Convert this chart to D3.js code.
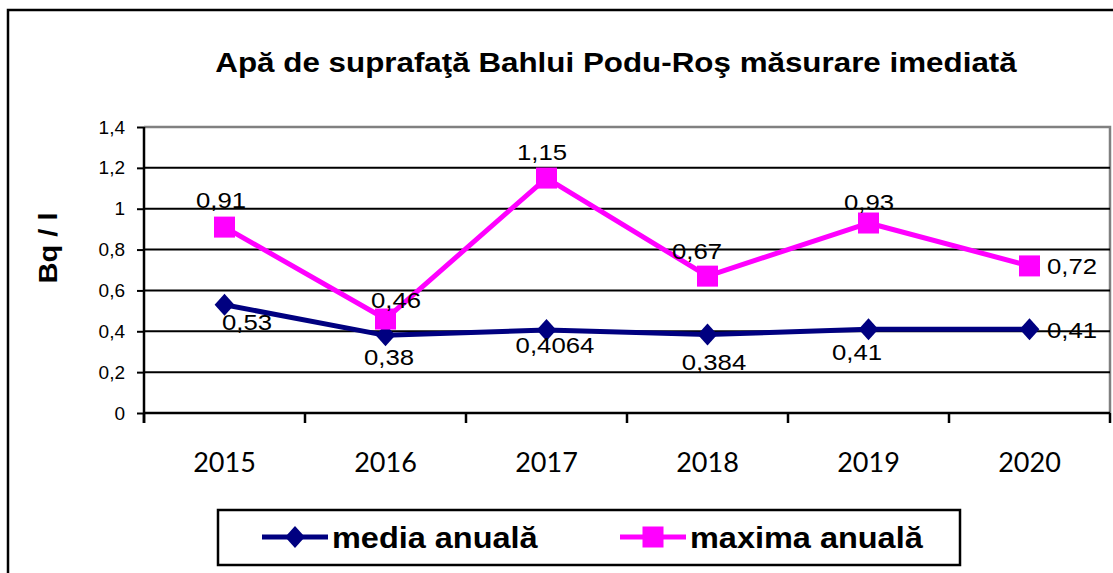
<!DOCTYPE html>
<html>
<head>
<meta charset="utf-8">
<script src="https://cdn.jsdelivr.net/npm/d3@7"></script>
<style>
  html, body { margin: 0; padding: 0; background: #fff; }
  svg { display: block; }
  .arial { font-family: "Liberation Sans", Arial, sans-serif; }
</style>
</head>
<body>
<svg id="chart" width="1113" height="573"></svg>
<script>
// Annual values (Bq/l) for surface water, Bahlui at Podu-Roş
const years = ["2015", "2016", "2017", "2018", "2019", "2020"];
const media = [0.53, 0.38, 0.4064, 0.384, 0.41, 0.41];
const maxima = [0.91, 0.46, 1.15, 0.67, 0.93, 0.72];
const yTicks = [0, 0.2, 0.4, 0.6, 0.8, 1, 1.2, 1.4];
const seriesNames = ["media anuală", "maxima anuală"];
const titleText = "Apă de suprafaţă Bahlui Podu-Roş măsurare imediată";
const yTitle = "Bq / l";

// label placement around each point: [dx, dy, anchor]
const mediaLabelPos = [[-2.5, 25, "start"], [3.5, 30, "middle"], [8.5, 23, "middle"],
                       [6.5, 35, "middle"], [-11.5, 31, "middle"], [17.5, 9, "start"]];
const maximaLabelPos = [[-3.5, -19, "middle"], [10.5, -11, "middle"], [-4.5, -18, "middle"],
                        [-10.5, -17, "middle"], [0.5, -13, "middle"], [17.5, 8, "start"]];

const NAVY = "#000080", MAGENTA = "#ff00ff";
const SX = 1.12; // horizontal text stretch

const ro = d3.formatLocale({ decimal: ",", thousands: ".", grouping: [3], currency: ["", ""] });
const fmt = ro.format("~g");

const svg = d3.select("#chart");
const plot = { left: 144, right: 1110, top: 127, bottom: 413 };

const x = d3.scaleBand().domain(years).range([plot.left, plot.right]).padding(0);
const cx = d => x(d) + x.bandwidth() / 2;
const y = d3.scaleLinear().domain([0, 1.4]).range([plot.bottom, plot.top]);

// outer frame
svg.append("rect").attr("x", 0).attr("y", 0).attr("width", 1113).attr("height", 573).attr("fill", "#fff");
svg.append("rect").attr("x", 8).attr("y", 10).attr("width", 1140).attr("height", 600)
  .attr("fill", "none").attr("stroke", "#000").attr("stroke-width", 2.5);

function stretchedText(g, tx, ty, str, extra) {
  return g.append("text")
    .attr("transform", `translate(${tx},${ty})` + (extra || "") + ` scale(${SX},1)`)
    .text(str);
}

// title
stretchedText(svg, 616, 72, titleText)
  .attr("class", "arial").attr("font-size", 28).attr("font-weight", "bold")
  .attr("text-anchor", "middle").attr("fill", "#000");

// y axis title
stretchedText(svg, 57, 248, yTitle, " rotate(-90)")
  .attr("class", "arial").attr("font-size", 26).attr("font-weight", "bold")
  .attr("text-anchor", "middle").attr("fill", "#000");

// plot frame (top and right)
svg.append("path")
  .attr("d", `M${plot.left},${y(1.4)}H${plot.right}V${plot.bottom}`)
  .attr("fill", "none").attr("stroke", "#808080").attr("stroke-width", 2.5);

// gridlines
svg.append("g").selectAll("line")
  .data(yTicks.filter(t => t > 0 && t < 1.4))
  .join("line")
  .attr("x1", plot.left).attr("x2", plot.right)
  .attr("y1", d => y(d)).attr("y2", d => y(d))
  .attr("stroke", "#000").attr("stroke-width", 2);

// y axis
const yAxis = svg.append("g")
  .attr("transform", `translate(${plot.left},0)`)
  .call(d3.axisLeft(y).tickValues(yTicks).tickFormat(fmt).tickSize(7).tickPadding(12));
yAxis.attr("font-size", null).attr("font-family", null);
yAxis.select(".domain").attr("stroke", "#000").attr("stroke-width", 2.5)
  .attr("d", `M0,${y(1.4)}V${y(0) + 10}`);
yAxis.selectAll(".tick line").attr("stroke", "#000").attr("stroke-width", 2);
yAxis.selectAll(".tick text")
  .attr("fill", "#000")
  .style("font-family", "'Liberation Sans', Arial, sans-serif")
  .style("font-size", "19px");

// x axis line and ticks at category boundaries
svg.append("line")
  .attr("x1", plot.left).attr("x2", plot.right)
  .attr("y1", y(0)).attr("y2", y(0))
  .attr("stroke", "#000").attr("stroke-width", 2.5);
const bounds = years.map(d => x(d)).concat([x.range()[1]]);
svg.append("g").selectAll("line").data(bounds).join("line")
  .attr("x1", d => d).attr("x2", d => d)
  .attr("y1", y(0)).attr("y2", y(0) + 10)
  .attr("stroke", "#000").attr("stroke-width", 2.5);
svg.append("g").selectAll("text").data(years).join("text")
  .attr("x", d => cx(d)).attr("y", 472)
  .attr("text-anchor", "middle")
  .attr("font-family", "Lato, 'Open Sans', sans-serif")
  .attr("font-size", 27).attr("fill", "#000")
  .text(d => d);

// series
const line = d3.line().x((d, i) => cx(years[i])).y(d => y(d));
const diamond = r => `M0,${-r}L${r * 0.9},0L0,${r}L${-r * 0.9},0Z`;

function drawSeries(values, color, marker, labelPos) {
  const g = svg.append("g");
  g.append("path").datum(values).attr("d", line)
    .attr("fill", "none").attr("stroke", color).attr("stroke-width", 5)
    .attr("stroke-linejoin", "round");
  const pts = g.selectAll(".pt").data(values).join("g")
    .attr("transform", (d, i) => `translate(${cx(years[i])},${y(d)})`);
  if (marker === "diamond") {
    pts.append("path").attr("d", diamond(11)).attr("fill", color);
  } else {
    pts.append("rect").attr("x", -10.5).attr("y", -10.5).attr("width", 21).attr("height", 21).attr("fill", color);
  }
  values.forEach((v, i) => {
    const [dx, dy, anchor] = labelPos[i];
    stretchedText(g, cx(years[i]) + dx, y(v) + dy, fmt(v))
      .attr("class", "arial").attr("font-size", 23).attr("fill", "#000")
      .attr("text-anchor", anchor);
  });
}
drawSeries(media, NAVY, "diamond", mediaLabelPos);
drawSeries(maxima, MAGENTA, "square", maximaLabelPos);

// legend
const lg = svg.append("g");
lg.append("rect").attr("x", 218).attr("y", 510).attr("width", 742).attr("height", 55)
  .attr("fill", "#fff").attr("stroke", "#000").attr("stroke-width", 2.5);
const legendItems = [
  { name: seriesNames[0], color: NAVY, marker: "diamond", x0: 262 },
  { name: seriesNames[1], color: MAGENTA, marker: "square", x0: 620 }
];
legendItems.forEach(it => {
  const ly = 537;
  lg.append("line").attr("x1", it.x0).attr("x2", it.x0 + 66).attr("y1", ly).attr("y2", ly)
    .attr("stroke", it.color).attr("stroke-width", 5);
  const m = lg.append("g").attr("transform", `translate(${it.x0 + 33},${ly})`);
  if (it.marker === "diamond") m.append("path").attr("d", diamond(11)).attr("fill", it.color);
  else m.append("rect").attr("x", -10.5).attr("y", -10.5).attr("width", 21).attr("height", 21).attr("fill", it.color);
  stretchedText(lg, it.x0 + 70, 548, it.name)
    .attr("class", "arial").attr("font-size", 29).attr("font-weight", "bold").attr("fill", "#000");
});
</script>
</body>
</html>
